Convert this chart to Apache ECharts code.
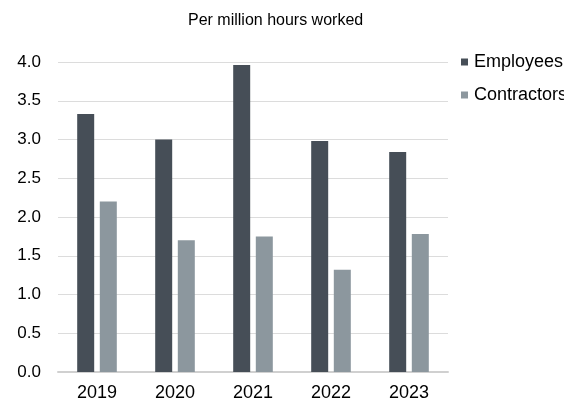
<!DOCTYPE html>
<html><head><meta charset="utf-8">
<script src="https://cdn.jsdelivr.net/npm/echarts@6/dist/echarts.min.js"></script>
<style>html,body{margin:0;padding:0;background:#fff}#c{width:564px;height:402px}</style>
</head><body><div id="c"></div>
<script>
const years = ['2019','2020','2021','2022','2023'];
const employees = [3.33, 3.00, 3.96, 2.98, 2.84];
const contractors = [2.20, 1.70, 1.75, 1.32, 1.78];
const yTicks = ['0.0','0.5','1.0','1.5','2.0','2.5','3.0','3.5','4.0'];
const titleText = 'Per million hours worked';
const font = 'Liberation Sans, Arial, sans-serif';

const chart = echarts.init(document.getElementById('c'), null, {renderer:'canvas'});
chart.setOption({
  animation:false,
  backgroundColor:'#fff',
  title:{text:titleText,left:188,top:13,padding:0,
    textStyle:{fontFamily:font,fontSize:16,fontWeight:'normal',color:'#000'}},
  legend:{orient:'vertical',left:456,top:48,itemWidth:7,itemHeight:7,itemGap:15,icon:'rect',
    textStyle:{fontFamily:font,fontSize:18,color:'#000',padding:[0,0,0,1]},
    data:['Employees','Contractors']},
  grid:{left:58,right:116,top:62,bottom:30,containLabel:false},
  xAxis:{type:'category',data:years,
    axisLine:{lineStyle:{color:'#d0d0d0',width:2}},axisTick:{show:false},
    axisLabel:{fontFamily:font,fontSize:18,color:'#000',margin:12}},
  yAxis:{type:'value',min:0,max:4,interval:0.5,
    axisLine:{show:false},axisTick:{show:false},
    splitLine:{lineStyle:{color:'#dcdcdc',width:1}},
    axisLabel:{fontFamily:font,fontSize:17,color:'#000',margin:17,
      formatter:(v)=>yTicks[Math.round(v/0.5)]}},
  series:[
    {name:'Employees',type:'bar',data:employees,barWidth:17,barGap:'33%',
      itemStyle:{color:'#464e57'}},
    {name:'Contractors',type:'bar',data:contractors,barWidth:17,barGap:'33%',
      itemStyle:{color:'#8c979e'}}
  ]
});
</script></body></html>
